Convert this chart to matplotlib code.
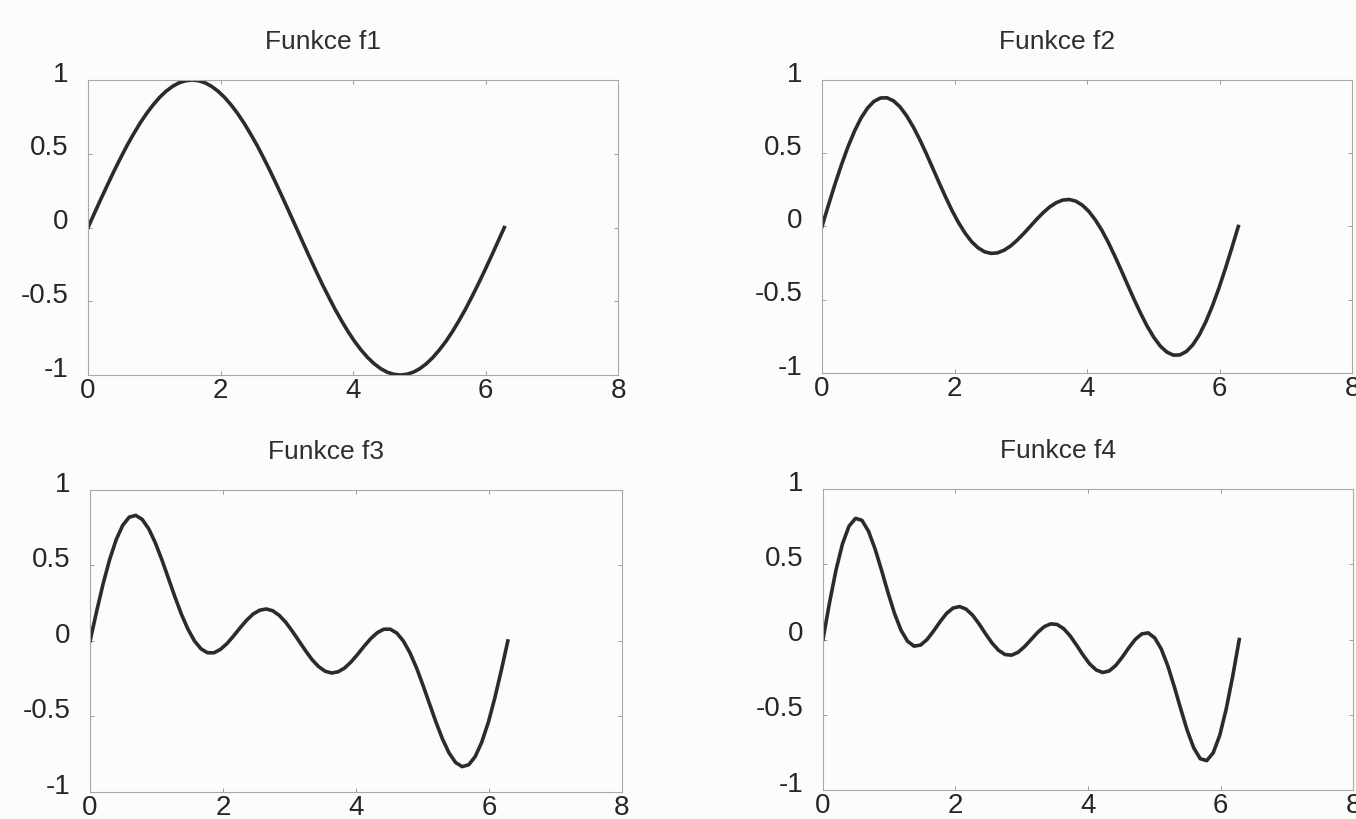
import matplotlib
matplotlib.use('Agg')
import matplotlib.pyplot as plt
from matplotlib.transforms import ScaledTranslation

plt.rcParams['font.family'] = ['Liberation Sans', 'DejaVu Sans']

# x od 0 do 2*pi
x = [0.000, 0.098, 0.196, 0.295, 0.393, 0.491, 0.589, 0.687, 0.785, 0.884,
     0.982, 1.080, 1.178, 1.276, 1.374, 1.473, 1.571, 1.669, 1.767, 1.865,
     1.963, 2.062, 2.160, 2.258, 2.356, 2.454, 2.553, 2.651, 2.749, 2.847,
     2.945, 3.043, 3.142, 3.240, 3.338, 3.436, 3.534, 3.633, 3.731, 3.829,
     3.927, 4.025, 4.123, 4.222, 4.320, 4.418, 4.516, 4.614, 4.712, 4.811,
     4.909, 5.007, 5.105, 5.203, 5.301, 5.400, 5.498, 5.596, 5.694, 5.792,
     5.890, 5.989, 6.087, 6.185, 6.283]

f1 = [0.000, 0.098, 0.195, 0.290, 0.383, 0.471, 0.556, 0.634, 0.707, 0.773,
      0.831, 0.882, 0.924, 0.957, 0.981, 0.995, 1.000, 0.995, 0.981, 0.957,
      0.924, 0.882, 0.831, 0.773, 0.707, 0.634, 0.556, 0.471, 0.383, 0.290,
      0.195, 0.098, 0.000, -0.098, -0.195, -0.290, -0.383, -0.471, -0.556, -0.634,
      -0.707, -0.773, -0.831, -0.882, -0.924, -0.957, -0.981, -0.995, -1.000, -0.995,
      -0.981, -0.957, -0.924, -0.882, -0.831, -0.773, -0.707, -0.634, -0.556, -0.471,
      -0.383, -0.290, -0.195, -0.098, 0.000]

f2 = [0.000, 0.147, 0.289, 0.423, 0.545, 0.651, 0.740, 0.808, 0.854, 0.877,
      0.878, 0.857, 0.816, 0.756, 0.682, 0.595, 0.500, 0.400, 0.299, 0.201,
      0.108, 0.025, -0.046, -0.104, -0.146, -0.173, -0.184, -0.180, -0.162, -0.133,
      -0.094, -0.049, 0.000, 0.049, 0.094, 0.133, 0.162, 0.180, 0.184, 0.173,
      0.146, 0.104, 0.046, -0.025, -0.108, -0.201, -0.299, -0.400, -0.500, -0.595,
      -0.682, -0.756, -0.816, -0.857, -0.878, -0.877, -0.854, -0.808, -0.740, -0.651,
      -0.545, -0.423, -0.289, -0.147, 0.000]

f3 = [0.000, 0.194, 0.378, 0.540, 0.671, 0.766, 0.820, 0.832, 0.805, 0.742,
      0.650, 0.538, 0.416, 0.293, 0.177, 0.078, 0.000, -0.052, -0.078, -0.078,
      -0.055, -0.016, 0.034, 0.088, 0.138, 0.179, 0.204, 0.212, 0.200, 0.169,
      0.123, 0.064, 0.000, -0.064, -0.123, -0.169, -0.200, -0.212, -0.204, -0.179,
      -0.138, -0.088, -0.034, 0.016, 0.055, 0.078, 0.078, 0.052, 0.000, -0.078,
      -0.177, -0.293, -0.416, -0.538, -0.650, -0.742, -0.805, -0.832, -0.820, -0.766,
      -0.671, -0.540, -0.378, -0.194, 0.000]

f4 = [0.000, 0.242, 0.460, 0.636, 0.753, 0.805, 0.792, 0.720, 0.604, 0.461,
      0.311, 0.173, 0.062, -0.011, -0.044, -0.037, 0.000, 0.056, 0.118, 0.173,
      0.209, 0.219, 0.202, 0.162, 0.104, 0.038, -0.024, -0.072, -0.100, -0.104,
      -0.085, -0.047, 0.000, 0.047, 0.085, 0.104, 0.100, 0.072, 0.024, -0.038,
      -0.104, -0.162, -0.202, -0.219, -0.209, -0.173, -0.118, -0.056, 0.000, 0.037,
      0.044, 0.011, -0.062, -0.173, -0.311, -0.461, -0.604, -0.720, -0.792, -0.805,
      -0.753, -0.636, -0.460, -0.242, 0.000]

titles = ['Funkce f1', 'Funkce f2', 'Funkce f3', 'Funkce f4']
xticks = [0, 2, 4, 6, 8]
yticks = [-1, -0.5, 0, 0.5, 1]
yticklabels = ['-1', '-0.5', '0', '0.5', '1']

# pozice os (vlevo, dole, sirka, vyska), obrazek 1356x819
pos = [[0.0649, 0.5421, 0.3909, 0.3602],
       [0.6062, 0.5446, 0.3909, 0.3578],
       [0.0664, 0.0330, 0.3923, 0.3687],
       [0.6069, 0.0354, 0.3909, 0.3675]]

fig = plt.figure(figsize=(13.56, 8.19), dpi=100)
fig.patch.set_facecolor('#fcfcfc')

for i, y in enumerate([f1, f2, f3, f4]):
    ax = fig.add_axes(pos[i])
    ax.set_facecolor('#fcfcfc')
    ax.plot(x, y, color='#2b2b2b', lw=2.6)
    ax.set_xlim(0, 8)
    ax.set_ylim(-1, 1)
    ax.set_xticks(xticks)
    ax.set_yticks(yticks)
    ax.set_yticklabels(yticklabels)
    ax.tick_params(direction='in', length=3, width=0.7, color='#999999',
                   top=True, right=True, labelsize=20, labelcolor='#262626')
    ax.tick_params(axis='x', pad=2)
    ax.tick_params(axis='y', pad=14)
    for lab in ax.get_yticklabels():
        lab.set_transform(lab.get_transform() + ScaledTranslation(0, 6 / 72, fig.dpi_scale_trans))
    for s in ax.spines.values():
        s.set_color('#a8a8a8')
        s.set_linewidth(0.8)
    ax.set_title(titles[i], fontsize=19, color='#2e2e2e', pad=22, x=0.443)

fig.savefig('out.png', dpi=100, facecolor=fig.get_facecolor())
